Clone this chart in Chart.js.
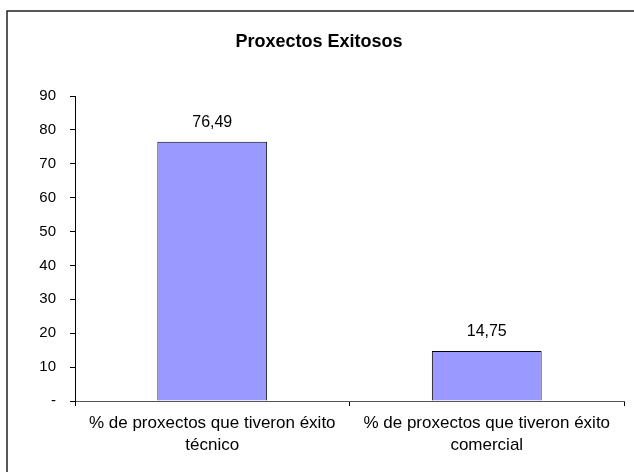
<!DOCTYPE html>
<html>
<head>
<meta charset="utf-8">
<title>Proxectos Exitosos</title>
<script src="https://cdn.jsdelivr.net/npm/chart.js@4.4.1/dist/chart.umd.min.js"></script>
<style>
    html, body { margin: 0; padding: 0; background: #fff; }
    canvas { display: block; }
</style>
</head>
<body>
<canvas id="exitos-chart" width="634" height="472"></canvas>
<script>
const chartTitle = 'Proxectos Exitosos';
const categories = [
    ['% de proxectos que tiveron éxito', 'técnico'],
    ['% de proxectos que tiveron éxito', 'comercial']
];
const percentages = [76.49, 14.75];
const yTicks = [0, 10, 20, 30, 40, 50, 60, 70, 80, 90];

const FONT = "'Liberation Sans', Arial, sans-serif";
Chart.defaults.font.family = FONT;
Chart.defaults.color = '#000';

// formats 76.49 as 76,49
const formatValue = (v) => v.toFixed(2).replace('.', ',');

// white page plus the outer frame (left and top edges only show)
const framePlugin = {
    id: 'frame',
    beforeDraw(chart) {
        const ctx = chart.ctx;
        ctx.save();
        ctx.fillStyle = '#fff';
        ctx.fillRect(0, 0, chart.width, chart.height);
        ctx.strokeStyle = '#222';
        ctx.lineWidth = 1.5;
        ctx.beginPath();
        ctx.moveTo(7, chart.height);
        ctx.lineTo(7, 11);
        ctx.lineTo(chart.width, 11);
        ctx.stroke();
        ctx.restore();
    }
};

const titlePlugin = {
    id: 'chartTitle',
    afterDraw(chart) {
        const ctx = chart.ctx;
        ctx.save();
        ctx.font = `bold 18px ${FONT}`;
        ctx.fillStyle = '#000';
        ctx.textAlign = 'center';
        ctx.textBaseline = 'alphabetic';
        ctx.fillText(chartTitle, 319, 47);
        ctx.restore();
    }
};

// value above each bar
const valueLabels = {
    id: 'valueLabels',
    afterDatasetsDraw(chart) {
        const ctx = chart.ctx;
        const meta = chart.getDatasetMeta(0);
        ctx.save();
        ctx.font = `16px ${FONT}`;
        ctx.fillStyle = '#000';
        ctx.textAlign = 'center';
        ctx.textBaseline = 'alphabetic';
        meta.data.forEach((bar, i) => {
            ctx.fillText(formatValue(percentages[i]), bar.x, bar.y - 15);
        });
        ctx.restore();
    }
};

new Chart(document.getElementById('exitos-chart').getContext('2d'), {
    type: 'bar',
    data: {
        labels: categories,
        datasets: [{
            data: percentages,
            backgroundColor: '#9999FF',
            borderColor: '#000',
            borderWidth: 1,
            barPercentage: 0.4,
            categoryPercentage: 1
        }]
    },
    options: {
        responsive: false,
        animation: false,
        layout: {
            padding: { top: 96, right: 10, bottom: 0, left: 0 }
        },
        plugins: {
            legend: { display: false },
            tooltip: { enabled: false },
            title: { display: false }
        },
        scales: {
            x: {
                afterFit(scale) { scale.height = 71; },
                grid: {
                    drawOnChartArea: false,
                    drawTicks: true,
                    tickLength: 5,
                    color: '#000'
                },
                border: { display: true, color: '#555' },
                ticks: {
                    maxRotation: 0,
                    autoSkip: false,
                    padding: 6,
                    font: { size: 17, lineHeight: 1.3 },
                    color: '#000'
                }
            },
            y: {
                min: 0,
                max: 90,
                afterFit(scale) { scale.width = 75; },
                afterBuildTicks(scale) {
                    scale.ticks = yTicks.map(v => ({ value: v }));
                },
                grid: {
                    drawOnChartArea: false,
                    drawTicks: true,
                    tickLength: 5,
                    color: '#000'
                },
                border: { display: true, color: '#000' },
                ticks: {
                    padding: 14,
                    font: { size: 15 },
                    color: '#000',
                    callback: (v) => v === 0 ? '-' : v
                }
            }
        }
    },
    plugins: [framePlugin, titlePlugin, valueLabels]
});
</script>
</body>
</html>
